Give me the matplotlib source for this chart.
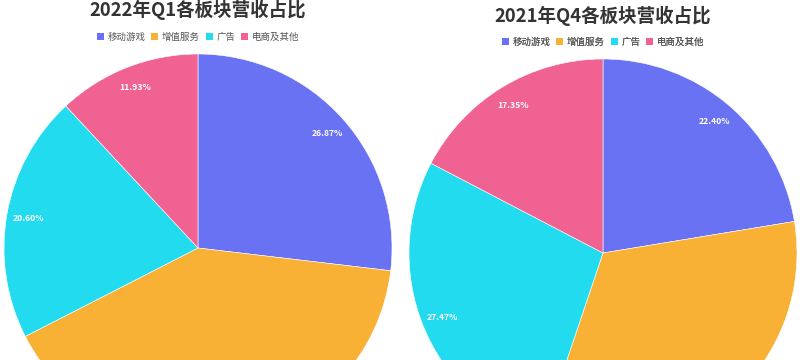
import matplotlib
matplotlib.use("Agg")
import matplotlib.pyplot as plt
from matplotlib.patches import Patch

plt.rcParams['font.family'] = ['Noto Sans CJK SC', 'DejaVu Sans']

categories = ["移动游戏", "增值服务", "广告", "电商及其他"]
q1_2022 = [26.87, 40.60, 20.60, 11.93]
q4_2021 = [22.40, 32.78, 27.47, 17.35]
titles = ["2022年Q1各板块营收占比", "2021年Q4各板块营收占比"]
colors = ["#6a72f4", "#f8b134", "#22dbef", "#f06292"]

fig = plt.figure(figsize=(8, 3.6), dpi=100)
ax = fig.add_axes([0, 0, 1, 1])
ax.set_xlim(0, 800)
ax.set_ylim(0, 360)
ax.set_aspect('equal')
ax.axis('off')

pies = [
    (q1_2022, (198, 112), titles[0], 350, 323),
    (q4_2021, (603, 107), titles[1], 344, 318),
]
R = 194
for vals, c, title, ty, ly in pies:
    wedges, texts, autotexts = ax.pie(
        vals, colors=colors, startangle=90, counterclock=False,
        center=c, radius=R, autopct='%.2f%%', pctdistance=0.89,
        wedgeprops=dict(linewidth=0.4, edgecolor='#ffffff'),
        textprops=dict(color='white', fontsize=6.2, fontweight='bold'))
    # labels that fall outside the visible canvas (bottom) are not shown
    for t in autotexts:
        x, y = t.get_position()
        if y < 8:
            t.set_visible(False)
    ax.text(c[0], ty, title, ha='center', va='center', fontsize=13.3,
            fontweight='bold', color='#333333')
    handles = [Patch(facecolor=col, edgecolor='none') for col in colors]
    leg = ax.legend(handles, categories, loc='center',
                    bbox_to_anchor=(c[0] / 800, ly / 360), ncol=4, frameon=False,
                    fontsize=6.8, handlelength=0.75, handleheight=0.75,
                    handletextpad=0.4, columnspacing=0.6, labelcolor='#555555',
                    borderpad=0)
    ax.add_artist(leg)

ax.set_xlim(0, 800)
ax.set_ylim(0, 360)
fig.savefig("out.png", dpi=100, facecolor='white')
